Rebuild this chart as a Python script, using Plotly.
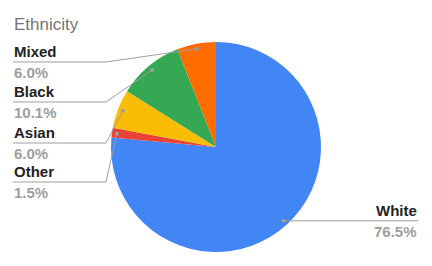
import math
import plotly.graph_objects as go

# ---- data ----
categories = ["White", "Other", "Asian", "Black", "Mixed"]
values = [76.5, 1.5, 6.0, 10.1, 6.0]
pct_labels = ["76.5%", "1.5%", "6.0%", "10.1%", "6.0%"]
colors = ["#4285F4", "#EA4335", "#FBBC04", "#34A853", "#FF6D01"]

# ---- layout constants (pixels) ----
W, H = 432, 266
CX, CY, R = 216, 147, 105
DOT_R = 100
# label line y-positions and sides, by category
label_line_y = {"White": None, "Other": 182, "Asian": 143, "Black": 102, "Mixed": 62}
LEFT_X, ELBOW_X, RIGHT_X = 13, 106, 418
GRAY_LINE = "#9e9e9e"
FONT = "Arial, Liberation Sans, sans-serif"


def px(x):
    return x / W


def py(y):
    return 1 - y / H


fig = go.Figure(go.Pie(
    labels=categories, values=values, sort=False, direction="clockwise",
    rotation=0, marker=dict(colors=colors, line=dict(width=0)),
    textinfo="none", hoverinfo="skip", showlegend=False,
    domain=dict(x=[px(CX - R), px(CX + R)], y=[py(CY + R), py(CY - R)]),
))

shapes = []
annotations = []
total = sum(values)
cum = 0.0
for cat, v, pl in zip(categories, values, pct_labels):
    mid = (cum + v / 2) / total * 2 * math.pi
    cum += v
    dx = CX + DOT_R * math.sin(mid)
    dy = CY - DOT_R * math.cos(mid)
    ly = label_line_y[cat]
    if ly is None:
        ly = dy
        pts = [(dx, dy), (RIGHT_X, dy)]
        tx, anchor = RIGHT_X, "right"
    else:
        pts = [(dx, dy), (ELBOW_X, ly), (LEFT_X, ly)]
        tx, anchor = LEFT_X, "left"
    path = "M " + " L ".join(f"{px(x)},{py(y)}" for x, y in pts)
    shapes.append(dict(type="path", path=path, xref="paper", yref="paper",
                       line=dict(color=GRAY_LINE, width=1)))
    shapes.append(dict(type="circle", xref="paper", yref="paper",
                       x0=px(dx - 2), x1=px(dx + 2), y0=py(dy + 2), y1=py(dy - 2),
                       fillcolor="#9e9e9e", line=dict(width=0)))
    annotations.append(dict(x=px(tx), y=py(ly - 1), xref="paper", yref="paper",
                            xanchor=anchor, yanchor="bottom", showarrow=False,
                            text=f"<b>{cat}</b>", borderpad=0,
                            font=dict(family=FONT, size=15, color="#222222")))
    annotations.append(dict(x=px(tx), y=py(ly + 1), xref="paper", yref="paper",
                            xanchor=anchor, yanchor="top", showarrow=False,
                            text=f"<b>{pl}</b>", borderpad=0,
                            font=dict(family=FONT, size=15, color="#9e9e9e")))

annotations.append(dict(x=px(13), y=py(35), xref="paper", yref="paper",
                        xanchor="left", yanchor="bottom", showarrow=False,
                        text="Ethnicity", borderpad=0,
                        font=dict(family=FONT, size=17, color="#757575")))

fig.update_layout(width=W, height=H, margin=dict(l=0, r=0, t=0, b=0),
                  paper_bgcolor="white", plot_bgcolor="white",
                  shapes=shapes, annotations=annotations)
fig.write_html("out.html", config={"displayModeBar": False},
               post_script="document.body.style.margin='0';")
